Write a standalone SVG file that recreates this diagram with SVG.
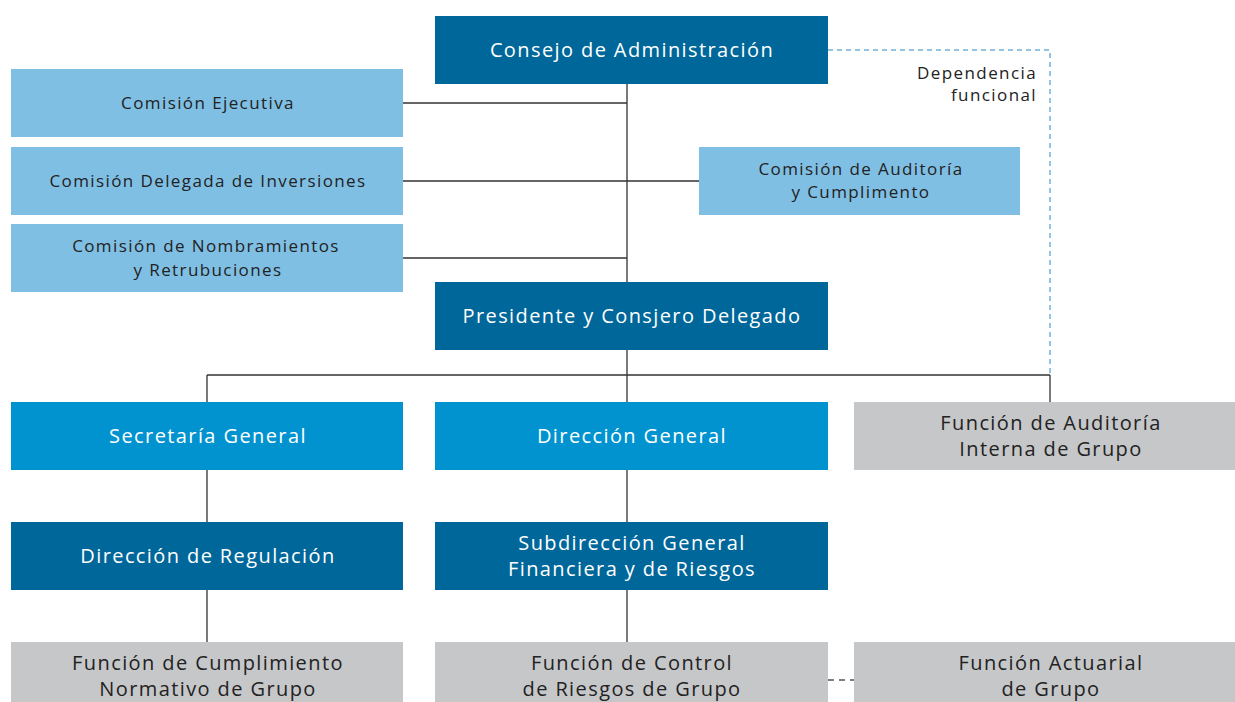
<svg xmlns="http://www.w3.org/2000/svg" width="1235" height="702" viewBox="0 0 1235 702">
<style>
.dk{fill:#00679a}.lt{fill:#80bfe4}.md{fill:#0093d0}.gr{fill:#c6c7c9}
text{font-family:"Open Sans","Liberation Sans",sans-serif;text-anchor:middle;letter-spacing:1.4px}
.w{fill:#ffffff;font-size:20px}
.s{fill:#222222;font-size:17px}
.g{fill:#222222;font-size:20px}
.ln{stroke:#333333;stroke-width:1.3;fill:none}
.dsh{stroke:#6fb2d8;stroke-width:1.5;fill:none;stroke-dasharray:5 4}
.dg{stroke:#555555;stroke-width:1.5;fill:none;stroke-dasharray:6 5}
</style>
<g id="connectors">
<path class="ln" d="M627 84V282M403 103H627M403 181H699M403 258H627M627 350V402M207 375H1050M207 375V402M1050 375V402M207 470V522M207 590V642M627 470V522M627 590V642"/>
<path class="dsh" d="M828 50H1050V375"/>
<path class="dg" d="M828 680H854"/>
</g>
<g id="consejo"><rect class="dk" x="435" y="16" width="393" height="68"/><text class="w" x="632" y="57">Consejo de Administración</text></g>
<g id="dep-label"><text class="s" x="1037" y="79" style="text-anchor:end">Dependencia</text><text class="s" x="1037" y="101" style="text-anchor:end">funcional</text></g>
<g id="ejecutiva"><rect class="lt" x="11" y="69" width="392" height="68"/><text class="s" x="208" y="109">Comisión Ejecutiva</text></g>
<g id="delegada"><rect class="lt" x="11" y="147" width="392" height="68"/><text class="s" x="208" y="187">Comisión Delegada de Inversiones</text></g>
<g id="nombramientos"><rect class="lt" x="11" y="224" width="392" height="68"/><text class="s" x="206" y="252">Comisión de Nombramientos</text><text class="s" x="208" y="276">y Retrubuciones</text></g>
<g id="auditoria-com"><rect class="lt" x="699" y="147" width="321" height="68"/><text class="s" x="861" y="175">Comisión de Auditoría</text><text class="s" x="861" y="198">y Cumplimento</text></g>
<g id="presidente"><rect class="dk" x="435" y="282" width="393" height="68"/><text class="w" x="632" y="323">Presidente y Consjero Delegado</text></g>
<g id="secretaria"><rect class="md" x="11" y="402" width="392" height="68"/><text class="w" x="208" y="443">Secretaría General</text></g>
<g id="direccion"><rect class="md" x="435" y="402" width="393" height="68"/><text class="w" x="632" y="443">Dirección General</text></g>
<g id="auditoria-int"><rect class="gr" x="854" y="402" width="381" height="68"/><text class="g" x="1051" y="430">Función de Auditoría</text><text class="g" x="1051" y="456">Interna de Grupo</text></g>
<g id="regulacion"><rect class="dk" x="11" y="522" width="392" height="68"/><text class="w" x="208" y="563">Dirección de Regulación</text></g>
<g id="subdireccion"><rect class="dk" x="435" y="522" width="393" height="68"/><text class="w" x="632" y="550">Subdirección General</text><text class="w" x="632" y="576">Financiera y de Riesgos</text></g>
<g id="cumplimiento"><rect class="gr" x="11" y="642" width="392" height="60"/><text class="g" x="208" y="670">Función de Cumplimiento</text><text class="g" x="208" y="696">Normativo de Grupo</text></g>
<g id="control"><rect class="gr" x="435" y="642" width="393" height="60"/><text class="g" x="632" y="670">Función de Control</text><text class="g" x="632" y="696">de Riesgos de Grupo</text></g>
<g id="actuarial"><rect class="gr" x="854" y="642" width="381" height="60"/><text class="g" x="1051" y="670">Función Actuarial</text><text class="g" x="1051" y="696">de Grupo</text></g>
</svg>
